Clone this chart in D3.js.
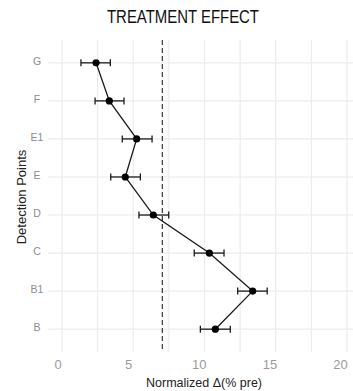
<!DOCTYPE html>
<html>
<head>
<meta charset="utf-8">
<script src="https://cdn.jsdelivr.net/npm/d3@7"></script>
<style>
  body { margin: 0; background: #fff; }
  text { font-family: "Liberation Sans", Arial, sans-serif; }
</style>
</head>
<body>
<svg id="effect-chart" width="353" height="391"></svg>
<script>
// data (bottom to top)
const points = ["B", "B1", "C", "D", "E", "E1", "F", "G"];
const means = [10.76, 13.38, 10.34, 6.41, 4.44, 5.24, 3.32, 2.39];
const lower = [9.71, 12.33, 9.28, 5.4, 3.42, 4.23, 2.32, 1.33];
const upper = [11.81, 14.4, 11.37, 7.49, 5.5, 6.32, 4.35, 3.39];
const xTicks = [0, 5, 10, 15, 20];
const refValue = 7.04;

const chartArea = d3.select("svg#effect-chart");
const W = +chartArea.attr("width");
const panel = { left: 48, right: W, top: 40, bottom: 352 };

const gridColor = "#ececec";
const inkColor = "#1a1a1a";
const labelColor = "#8c8c8c";

const xScale = d3.scaleLinear().domain([0, 20]).range([62, 347]);
const yScale = d3
  .scalePoint()
  .domain(points.slice().reverse())
  .range([panel.top, panel.bottom])
  .padding(0.6);

const rows = points.map((p, i) => ({
  point: p,
  mean: means[i],
  lo: lower[i],
  hi: upper[i],
}));

// grid
const grid = chartArea.append("g").attr("class", "grid");
grid
  .selectAll("line.vgrid")
  .data(d3.range(0, 20.01, 2.5))
  .join("line")
  .attr("class", "vgrid")
  .attr("x1", (d) => xScale(d))
  .attr("x2", (d) => xScale(d))
  .attr("y1", panel.top)
  .attr("y2", panel.bottom)
  .attr("stroke", gridColor)
  .attr("stroke-width", 1.2);
grid
  .selectAll("line.hgrid")
  .data(points)
  .join("line")
  .attr("class", "hgrid")
  .attr("x1", panel.left)
  .attr("x2", panel.right)
  .attr("y1", (d) => yScale(d))
  .attr("y2", (d) => yScale(d))
  .attr("stroke", gridColor)
  .attr("stroke-width", 1.2);

// reference line
chartArea
  .append("line")
  .attr("x1", xScale(refValue))
  .attr("x2", xScale(refValue))
  .attr("y1", panel.top)
  .attr("y2", panel.bottom)
  .attr("stroke", "#333")
  .attr("stroke-width", 1.2)
  .attr("stroke-dasharray", "5,3");

// connecting line
const line = d3
  .line()
  .x((d) => xScale(d.mean))
  .y((d) => yScale(d.point));
chartArea
  .append("path")
  .datum(rows)
  .attr("d", line)
  .attr("fill", "none")
  .attr("stroke", inkColor)
  .attr("stroke-width", 1.3);

// error bars
const bars = chartArea.append("g").attr("class", "errorbars");
rows.forEach((d) => {
  const y = yScale(d.point);
  bars
    .append("line")
    .attr("x1", xScale(d.lo))
    .attr("x2", xScale(d.hi))
    .attr("y1", y)
    .attr("y2", y)
    .attr("stroke", inkColor)
    .attr("stroke-width", 1.3);
  [d.lo, d.hi].forEach((v) => {
    bars
      .append("line")
      .attr("x1", xScale(v))
      .attr("x2", xScale(v))
      .attr("y1", y - 3.5)
      .attr("y2", y + 3.5)
      .attr("stroke", inkColor)
      .attr("stroke-width", 1.3);
  });
});

chartArea
  .selectAll("circle.dot")
  .data(rows)
  .join("circle")
  .attr("class", "dot")
  .attr("cx", (d) => xScale(d.mean))
  .attr("cy", (d) => yScale(d.point))
  .attr("r", 3.6)
  .attr("fill", "#000");

// axis labels
chartArea
  .selectAll("text.ylab")
  .data(points)
  .join("text")
  .attr("class", "ylab")
  .attr("x", 37)
  .attr("y", (d) => yScale(d) - 2)
  .attr("text-anchor", "middle")
  .attr("dominant-baseline", "central")
  .attr("font-size", 10.5)
  .attr("fill", labelColor)
  .text((d) => d);

chartArea
  .selectAll("text.xlab")
  .data(xTicks)
  .join("text")
  .attr("class", "xlab")
  .attr("x", (d) => xScale(d) - 4 - d * 0.12)
  .attr("y", 364)
  .attr("text-anchor", "middle")
  .attr("dominant-baseline", "central")
  .attr("font-size", 13)
  .attr("fill", "#9a9a9a")
  .text((d) => d);

chartArea
  .append("text")
  .attr("x", 204)
  .attr("y", 383)
  .attr("text-anchor", "middle")
  .attr("dominant-baseline", "central")
  .attr("font-size", 12.5)
  .attr("fill", "#222")
  .text("Normalized Δ(% pre)");

chartArea
  .append("text")
  .attr("transform", "translate(21,197) rotate(-90)")
  .attr("text-anchor", "middle")
  .attr("dominant-baseline", "central")
  .attr("font-size", 13)
  .attr("fill", "#222")
  .text("Detection Points");

chartArea
  .append("text")
  .attr("x", 183)
  .attr("y", 17)
  .attr("text-anchor", "middle")
  .attr("dominant-baseline", "central")
  .attr("font-family", "'Open Sans', sans-serif")
  .attr("font-size", 18)
  .attr("textLength", 152)
  .attr("lengthAdjust", "spacingAndGlyphs")
  .attr("fill", "#111")
  .text("TREATMENT EFFECT");
</script>
</body>
</html>
